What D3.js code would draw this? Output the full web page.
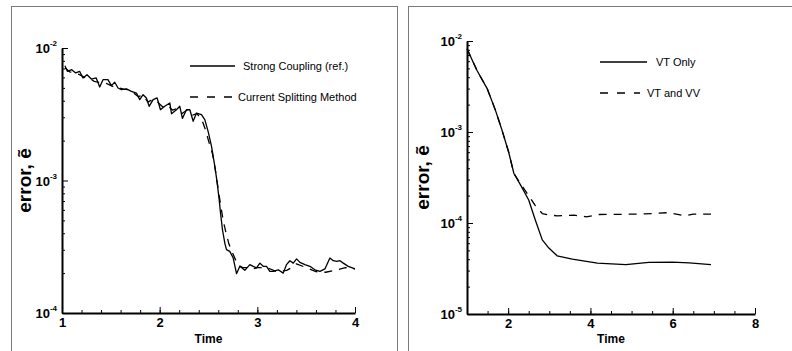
<!DOCTYPE html>
<html>
<head>
<meta charset="utf-8">
<script src="https://cdn.jsdelivr.net/npm/d3@7"></script>
<style>
  body { margin: 0; background: #fff; }
  svg { display: block; }
  text { font-family: "Liberation Sans", Arial, Helvetica, sans-serif; fill: #000; }
</style>
</head>
<body>
<svg id="chart" width="792" height="351"></svg>
<script>
// left panel: strong coupling vs current splitting
const leftStrongTime = [1.03, 1.055, 1.10, 1.14, 1.18, 1.215, 1.256, 1.30, 1.35, 1.386, 1.42, 1.47, 1.506, 1.54,
  1.574, 1.608, 1.659, 1.711, 1.762, 1.796, 1.83, 1.864, 1.892, 1.933, 1.974, 2.008, 2.052, 2.104, 2.121,
  2.172, 2.206, 2.233, 2.274, 2.309, 2.343, 2.377, 2.428, 2.462, 2.496, 2.531, 2.565, 2.589, 2.609, 2.623,
  2.643, 2.667, 2.684, 2.718, 2.753, 2.787, 2.821, 2.872, 2.923, 2.958, 2.992, 3.026, 3.06, 3.094, 3.128,
  3.163, 3.214, 3.265, 3.299, 3.333, 3.368, 3.402, 3.436, 3.487, 3.538, 3.59, 3.641, 3.692, 3.743, 3.778,
  3.812, 3.846, 3.88, 3.931, 4.0];
const leftStrong = [7.36e-3, 6.67e-3, 6.86e-3, 6.48e-3, 6.67e-3, 5.94e-3, 6.29e-3, 5.83e-3, 5.94e-3, 5.08e-3,
  5.77e-3, 5.77e-3, 5.20e-3, 5.51e-3, 4.99e-3, 4.85e-3, 4.91e-3, 4.71e-3, 4.57e-3, 4.08e-3, 4.44e-3, 4.20e-3,
  3.63e-3, 4.08e-3, 4.20e-3, 3.42e-3, 3.63e-3, 3.85e-3, 3.19e-3, 3.42e-3, 3.63e-3, 2.94e-3, 3.42e-3, 3.42e-3,
  2.80e-3, 3.23e-3, 3.14e-3, 2.88e-3, 2.35e-3, 1.81e-3, 1.28e-3, 9.6e-4, 7.2e-4, 5.7e-4, 4.25e-4, 3.37e-4,
  3.01e-4, 2.92e-4, 2.60e-4, 1.98e-4, 2.25e-4, 2.10e-4, 2.32e-4, 2.25e-4, 2.19e-4, 2.38e-4, 2.25e-4, 2.25e-4,
  2.06e-4, 2.06e-4, 2.12e-4, 2.00e-4, 2.32e-4, 2.48e-4, 2.38e-4, 2.56e-4, 2.41e-4, 2.32e-4, 2.25e-4, 2.12e-4,
  2.06e-4, 2.15e-4, 2.60e-4, 2.48e-4, 2.45e-4, 2.48e-4, 2.38e-4, 2.25e-4, 2.15e-4];

const leftSplitTime = [1.03, 1.08, 1.13, 1.18, 1.23, 1.28, 1.33, 1.38, 1.43, 1.48, 1.53, 1.58, 1.63, 1.68,
  1.73, 1.78, 1.83, 1.88, 1.93, 1.98, 2.03, 2.08, 2.13, 2.18, 2.23, 2.28, 2.33, 2.38, 2.43, 2.47, 2.50, 2.54,
  2.57, 2.60, 2.625, 2.65, 2.68, 2.71, 2.75, 2.80, 2.85, 2.90, 2.95, 3.0, 3.1, 3.2, 3.3, 3.35, 3.4, 3.5, 3.6,
  3.7, 3.8, 3.9, 4.0];
const leftSplit = [7.1e-3, 6.6e-3, 6.5e-3, 6.3e-3, 6.0e-3, 5.9e-3, 5.6e-3, 5.5e-3, 5.5e-3, 5.3e-3, 5.1e-3,
  5.0e-3, 4.9e-3, 4.85e-3, 4.6e-3, 4.3e-3, 4.4e-3, 3.9e-3, 4.1e-3, 3.9e-3, 3.6e-3, 3.7e-3, 3.4e-3, 3.5e-3,
  3.2e-3, 3.4e-3, 3.1e-3, 3.2e-3, 2.9e-3, 2.4e-3, 2.0e-3, 1.6e-3, 1.2e-3, 8.5e-4, 6.5e-4, 5.0e-4, 4.0e-4,
  3.3e-4, 2.8e-4, 2.3e-4, 2.2e-4, 2.2e-4, 2.15e-4, 2.2e-4, 2.2e-4, 2.05e-4, 2.1e-4, 2.2e-4, 2.35e-4, 2.2e-4,
  2.05e-4, 2.03e-4, 2.1e-4, 2.2e-4, 2.15e-4];

// right panel: VT only vs VT and VV
const rightVtTime = [1.0, 1.24, 1.49, 1.69, 1.85, 2.01, 2.14, 2.30, 2.50, 2.66, 2.83, 2.99, 3.19, 3.56, 4.17,
  4.86, 5.42, 5.99, 6.40, 6.93];
const rightVt = [8.24e-3, 4.77e-3, 3.0e-3, 1.74e-3, 1.05e-3, 6.07e-4, 3.5e-4, 2.62e-4, 1.79e-4, 1.08e-4,
  6.53e-5, 5.3e-5, 4.36e-5, 4.01e-5, 3.63e-5, 3.48e-5, 3.69e-5, 3.72e-5, 3.65e-5, 3.48e-5];

const rightVvTime = [1.0, 1.24, 1.49, 1.69, 1.85, 2.01, 2.14, 2.30, 2.50, 2.66, 2.83, 3.0, 3.2, 3.6, 3.9,
  4.2, 5.0, 5.5, 5.9, 6.3, 6.5, 6.93];
const rightVv = [8.24e-3, 4.77e-3, 3.0e-3, 1.74e-3, 1.05e-3, 6.07e-4, 3.5e-4, 2.7e-4, 2.0e-4, 1.55e-4,
  1.27e-4, 1.22e-4, 1.2e-4, 1.22e-4, 1.17e-4, 1.24e-4, 1.25e-4, 1.27e-4, 1.3e-4, 1.2e-4, 1.25e-4, 1.25e-4];

const leftXTicks = [1, 2, 3, 4];
const rightXTicks = [2, 4, 6, 8];
const leftLegend = ['Strong Coupling (ref.)', 'Current Splitting Method'];
const rightLegend = ['VT Only', 'VT and VV'];

const svg = d3.select('#chart');

function drawPanel(p) {
  const g = svg.append('g');

  g.append('rect')
    .attr('x', p.frame[0] + 0.5).attr('y', p.frame[1] + 0.5)
    .attr('width', p.frame[2]).attr('height', p.frame[3])
    .attr('fill', 'none').attr('stroke', '#7a7a7a').attr('stroke-width', 1);

  const x = d3.scaleLinear().domain(p.xDomain).range([p.left, p.right]);
  const y = d3.scaleLog().domain(p.yDomain).range([p.bottom, p.top]);

  const decades = y.ticks().filter(v => Math.abs(Math.log10(v) - Math.round(Math.log10(v))) < 1e-9);
  const minorY = y.ticks().filter(v => !decades.includes(v));

  // y axis
  g.append('g').attr('transform', `translate(${p.left},0)`)
    .call(d3.axisLeft(y).tickValues(minorY).tickSize(-3).tickSizeOuter(0).tickFormat(''))
    .call(a => a.select('.domain').attr('stroke-width', 2));
  g.append('g').attr('transform', `translate(${p.left},0)`)
    .call(d3.axisLeft(y).tickValues(decades).tickSize(-6).tickSizeOuter(0).tickFormat(''))
    .call(a => a.select('.domain').remove());

  g.selectAll('.ylab').data(decades).join('text')
    .attr('class', 'ylab')
    .attr('x', p.left - 5)
    .attr('y', d => y(d) + 5)
    .attr('text-anchor', 'end')
    .attr('font-size', 13).attr('font-weight', 'bold')
    .each(function(d) {
      const t = d3.select(this);
      t.append('tspan').text('10');
      t.append('tspan').attr('font-size', 8).attr('dy', -7).text(Math.round(Math.log10(d)));
    });

  // x axis
  g.append('g').attr('transform', `translate(0,${p.bottom})`)
    .call(d3.axisBottom(x).tickValues(x.ticks(p.minorCount)).tickSize(-3).tickSizeOuter(0).tickFormat(''))
    .call(a => a.select('.domain').attr('stroke-width', 2));
  g.append('g').attr('transform', `translate(0,${p.bottom})`)
    .call(d3.axisBottom(x).tickValues(p.xTicks).tickSize(-6).tickSizeOuter(0).tickPadding(5).tickFormat(d3.format('d')))
    .call(a => a.select('.domain').remove())
    .call(a => a.selectAll('text').attr('font-size', 13).attr('font-weight', 'bold')
      .attr('font-family', '"Liberation Sans", Arial, sans-serif'));

  g.selectAll('.tick line').attr('stroke', '#000').attr('stroke-width', 1);

  // titles
  g.append('text')
    .attr('x', (p.left + p.right) / 2).attr('y', 343)
    .attr('text-anchor', 'middle').attr('font-size', 12).attr('font-weight', 'bold')
    .text('Time');
  g.append('text')
    .attr('transform', `translate(${p.titleX},${(p.top + p.bottom) / 2}) rotate(-90)`)
    .attr('text-anchor', 'middle').attr('font-size', 19).attr('font-weight', 'bold')
    .text('error, ẽ');

  // series
  const line = d3.line().x(d => x(d[0])).y(d => y(d[1]));
  p.series.forEach((s, i) => {
    g.append('path')
      .datum(d3.zip(s.t, s.v))
      .attr('d', line)
      .attr('fill', 'none').attr('stroke', '#000').attr('stroke-width', 1.3)
      .attr('stroke-linejoin', 'round')
      .attr('stroke-dasharray', s.dash ? '8,7' : null);

    const lg = p.legend[i];
    g.append('line')
      .attr('x1', lg.x1).attr('x2', lg.x2).attr('y1', lg.y).attr('y2', lg.y)
      .attr('stroke', '#000').attr('stroke-width', 1.3)
      .attr('stroke-dasharray', s.dash ? '8,9' : null);
    g.append('text')
      .attr('x', lg.tx).attr('y', lg.y + 4)
      .attr('font-size', 11)
      .text(s.name);
  });
}

drawPanel({
  frame: [11, 6, 386, 400],
  left: 62, right: 355, top: 48, bottom: 313,
  xDomain: [1, 4], yDomain: [1e-4, 1e-2],
  xTicks: leftXTicks, minorCount: 15, titleX: 31,
  series: [
    { name: leftLegend[0], t: leftStrongTime, v: leftStrong, dash: false },
    { name: leftLegend[1], t: leftSplitTime, v: leftSplit, dash: true }
  ],
  legend: [
    { x1: 190, x2: 235, y: 66, tx: 243 },
    { x1: 190, x2: 232, y: 97, tx: 238 }
  ]
});

drawPanel({
  frame: [408, 6, 400, 400],
  left: 467, right: 755, top: 41, bottom: 314,
  xDomain: [1, 8], yDomain: [1e-5, 1e-2],
  xTicks: rightXTicks, minorCount: 14, titleX: 429,
  series: [
    { name: rightLegend[0], t: rightVtTime, v: rightVt, dash: false },
    { name: rightLegend[1], t: rightVvTime, v: rightVv, dash: true }
  ],
  legend: [
    { x1: 600, x2: 647, y: 62, tx: 656 },
    { x1: 600, x2: 640, y: 93, tx: 647 }
  ]
});
</script>
</body>
</html>
